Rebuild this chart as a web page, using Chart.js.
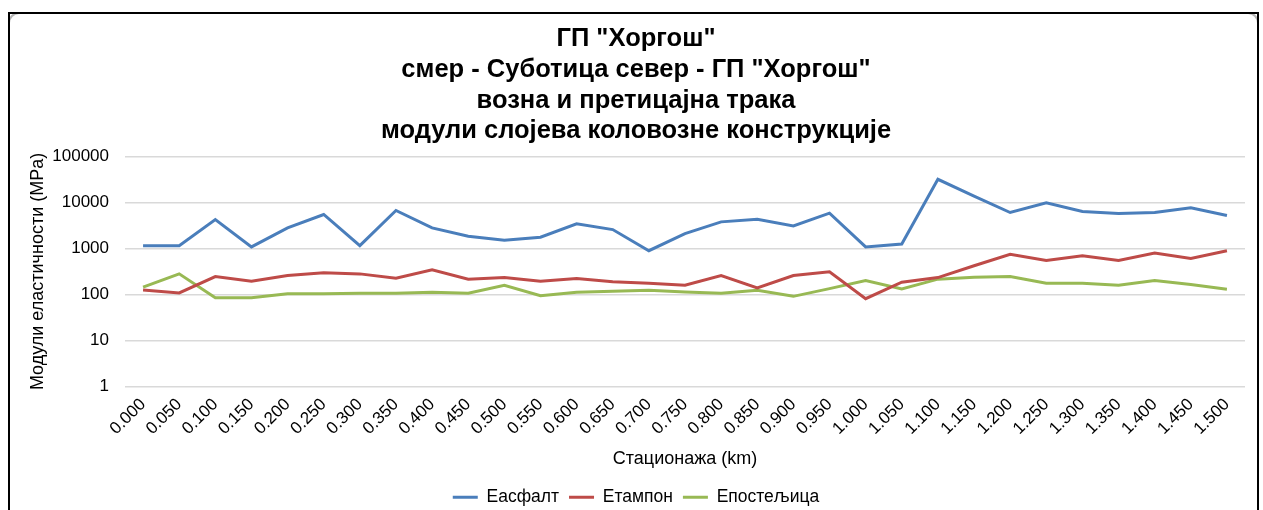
<!DOCTYPE html>
<html>
<head>
<meta charset="utf-8">
<script src="https://cdn.jsdelivr.net/npm/chart.js@4.4.1/dist/chart.umd.min.js"></script>
<style>
  html, body { margin: 0; padding: 0; background: #fff; overflow: hidden; width: 1263px; height: 510px; }
  #wrap { position: absolute; left: 0; top: 0; width: 1263px; height: 522px; }
  #round { position: absolute; left: 8px; top: 12px; width: 1251px; height: 530px;
           border: 2px solid #b5b5b5; border-radius: 11px; box-sizing: border-box; pointer-events: none; }
  #frame { position: absolute; left: 8px; top: 12px; width: 1251px; height: 530px;
           border: 2px solid #000; box-sizing: border-box; pointer-events: none; }
</style>
</head>
<body>
<div id="wrap"><canvas id="c" width="1263" height="522"></canvas></div>
<div id="round"></div>
<div id="frame"></div>
<script>
const stations = ["0.000","0.050","0.100","0.150","0.200","0.250","0.300","0.350","0.400","0.450",
  "0.500","0.550","0.600","0.650","0.700","0.750","0.800","0.850","0.900","0.950",
  "1.000","1.050","1.100","1.150","1.200","1.250","1.300","1.350","1.400","1.450","1.500"];
const asfalt = [1150,1150,4250,1080,2800,5470,1150,6680,2800,1835,
  1500,1750,3420,2570,893,2100,3780,4310,3090,5840,
  1080,1250,31800,13700,6040,9850,6360,5750,6040,7660,5200];
const tampon = [125,108,245,194,258,295,280,226,343,215,
  233,194,222,190,175,159,258,139,258,310,
  81,185,233,420,743,550,695,550,795,607,893];
const posteljica = [144,281,85,85,103,103,106,106,112,106,
  159,94,112,117,124,113,106,124,91,134,
  200,132,215,238,245,175,175,159,200,164,130];
const yTicks = [1,10,100,1000,10000,100000];
const seriesNames = ["Еасфалт","Етампон","Епостељица"];
const titleLines = ['ГП "Хоргош"','смер - Суботица север - ГП "Хоргош"','возна и претицајна трака','модули слојева коловозне конструкције'];

const FONT = "'Liberation Sans', Arial, sans-serif";
const colors = ["#4A7EBB","#BE4B48","#98B954"];

new Chart(document.getElementById('c'), {
  type: 'line',
  data: {
    labels: stations,
    datasets: [asfalt, tampon, posteljica].map((d, i) => ({
      label: seriesNames[i], data: d,
      borderColor: colors[i], backgroundColor: colors[i],
      borderWidth: 3, pointRadius: 0, tension: 0
    }))
  },
  options: {
    responsive: false, animation: false,
    layout: { padding: { left: 27, right: 18, top: 24, bottom: 6 } },
    plugins: {
      tooltip: { enabled: false },
      title: {
        display: true, text: titleLines, color: '#000',
        font: { family: FONT, size: 25.5, weight: 'bold', lineHeight: 1.2 },
        padding: { top: 0, bottom: 10 }
      },
      legend: {
        position: 'bottom',
        labels: {
          color: '#000', font: { family: FONT, size: 17.5 },
          boxWidth: 25, boxHeight: 3, padding: 10,
          generateLabels: (chart) => Chart.defaults.plugins.legend.labels.generateLabels(chart).map(l => ({...l, lineWidth: 0, fillStyle: l.strokeStyle}))
        }
      }
    },
    scales: {
      x: {
        offset: true,
        grid: { display: false, drawTicks: false },
        border: { display: false },
        ticks: { color: '#000', font: { family: FONT, size: 17 }, minRotation: 45, maxRotation: 45, autoSkip: false, padding: 8 },
        title: { display: true, text: 'Стационажа (km)', color: '#000', font: { family: FONT, size: 18 }, padding: { top: 4, bottom: 9 } },
        afterFit: (s) => { s.height = 92; }
      },
      y: {
        type: 'logarithmic', min: 1, max: 100000,
        afterBuildTicks: (s) => { s.ticks = yTicks.map(v => ({ value: v })); },
        grid: { color: '#d9d9d9', lineWidth: 1.5, drawTicks: false },
        border: { display: false },
        ticks: { color: '#000', font: { family: FONT, size: 17 }, padding: 16, callback: (v) => String(v) },
        title: { display: true, text: 'Модули еластичности (MPa)', color: '#000', font: { family: FONT, size: 18 }, padding: { top: 0, bottom: 4 } },
        afterFit: (s) => { s.width = 98; }
      }
    }
  }
});
</script>
</body>
</html>
